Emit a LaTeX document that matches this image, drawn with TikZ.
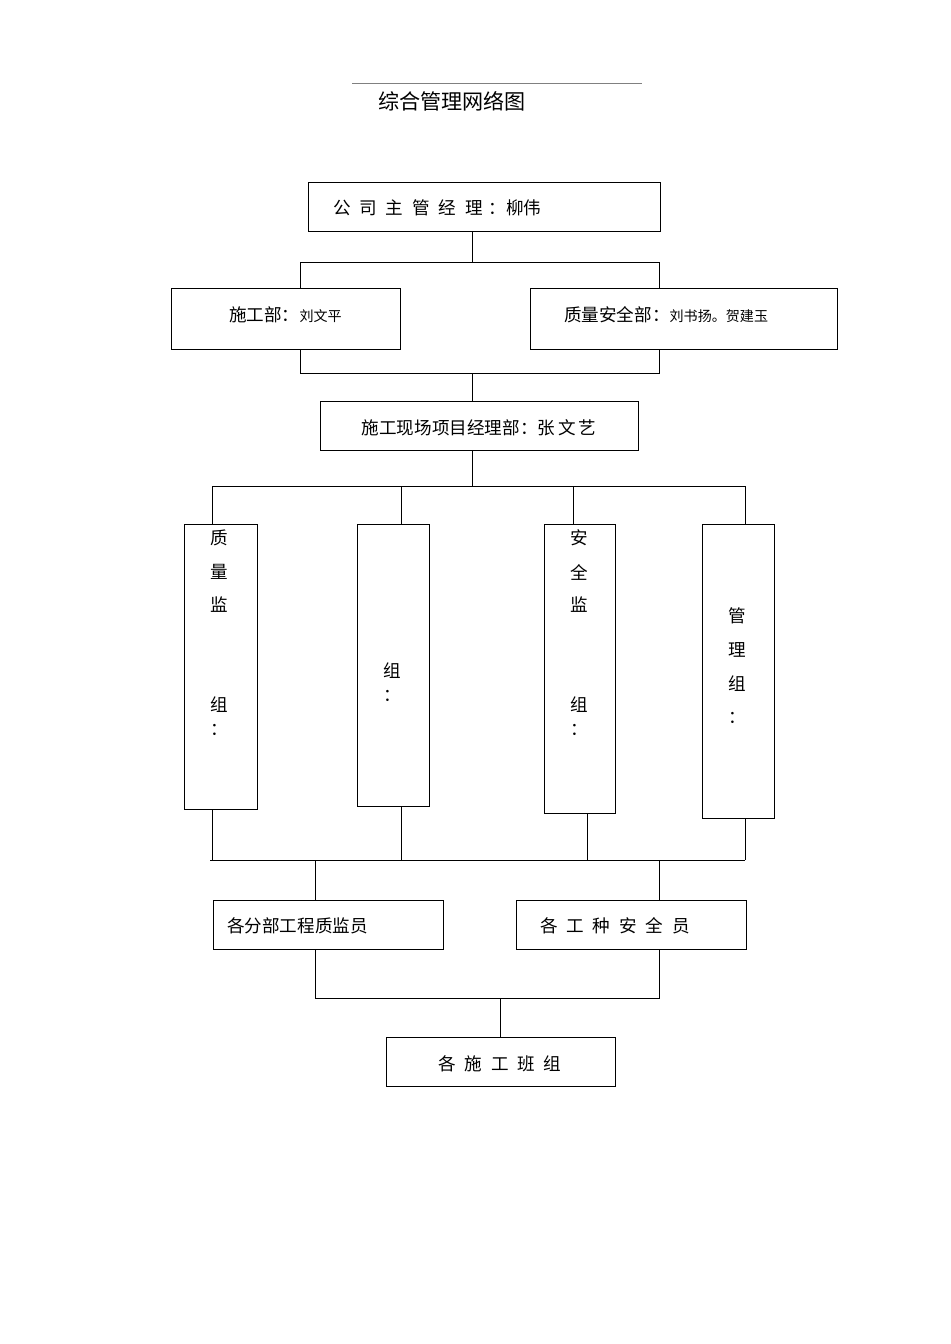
\documentclass[tikz,border=0pt]{standalone}
\usepackage{fontspec}
\newfontfamily\cjk{Noto Sans CJK SC}
\newcommand\smcjk{\fontsize{12}{12}\selectfont}
\begin{document}
\begin{tikzpicture}[x=0.03cm,y=-0.03cm,
  bx/.style={draw,line width=0.8pt,inner sep=0pt,anchor=north west},
  ln/.style={line width=0.6pt},
  t/.style={font=\cjk\fontsize{15}{15}\selectfont,inner sep=0pt}]
\useasboundingbox (0,0) rectangle (950,1344);
\draw[line width=0.3pt,gray] (352,83) -- (642,83);
\node[t,font=\cjk\fontsize{18}{18}\selectfont] (title) at (452,101) {综合管理网络图};
% boxes
\node[bx,minimum width=352*0.03cm,minimum height=49*0.03cm] (b1) at (308,182) {};
\node[t,anchor=west] at (333,208) {公\,\,\,司\,\,\,主\,\,\,管\,\,\,经\,\,\,理\,\,：柳伟};
\node[bx,minimum width=229*0.03cm,minimum height=61*0.03cm] (b2) at (171,288) {};
\node[t,anchor=west] at (229,315) {施工部：\smcjk 刘文平};
\node[bx,minimum width=307*0.03cm,minimum height=61*0.03cm] (b3) at (530,288) {};
\node[t,anchor=west] at (564,315) {质量安全部：\smcjk 刘书扬。贺建玉};
\node[bx,minimum width=318*0.03cm,minimum height=49*0.03cm] (b4) at (320,401) {};
\node[t] at (479,428) {施工现场项目经理部：张\,文\,艺};
\node[bx,minimum width=73*0.03cm,minimum height=285*0.03cm] (ga) at (184,524) {};
\node[bx,minimum width=72*0.03cm,minimum height=282*0.03cm] (gb) at (357,524) {};
\node[bx,minimum width=71*0.03cm,minimum height=289*0.03cm] (gc) at (544,524) {};
\node[bx,minimum width=72*0.03cm,minimum height=294*0.03cm] (gd) at (702,524) {};
\foreach \s/\y in {质/538,量/572,监/605,组/705,：/730} \node[t] at (219,\y) {\s};
\foreach \s/\y in {组/671,：/696} \node[t] at (392,\y) {\s};
\foreach \s/\y in {安/538,全/572,监/605,组/705,：/730} \node[t] at (579,\y) {\s};
\foreach \s/\y in {管/616,理/650,组/684,：/718} \node[t] at (737,\y) {\s};
\node[bx,minimum width=230*0.03cm,minimum height=49*0.03cm] (e) at (213,900) {};
\node[t,anchor=west] at (227,926) {各分部工程质监员};
\node[bx,minimum width=230*0.03cm,minimum height=49*0.03cm] (f) at (516,900) {};
\node[t,anchor=west] at (540,926) {各\,\,\,工\,\,\,种\,\,\,安\,\,\,全\,\,\,员};
\node[bx,minimum width=229*0.03cm,minimum height=49*0.03cm] (g) at (386,1037) {};
\node[t] at (500,1064) {各\,\,\,施\,\,\,工\,\,\,班\,\,\,组};
% connectors
\draw[ln] (472,0 |- b1.south) -- (472,262);
\draw[ln] (300,0 |- b2.north) -- (300,262) -- (659,262) -- (659,0 |- b3.north);
\draw[ln] (300,0 |- b2.south) -- (300,373) -- (659,373) -- (659,0 |- b3.south);
\draw[ln] (472,373) -- (472,0 |- b4.north);
\draw[ln] (472,0 |- b4.south) -- (472,486);
\draw[ln] (212,486) -- (745,486);
\draw[ln] (212,486) -- (212,0 |- ga.north);
\draw[ln] (401,486) -- (401,0 |- gb.north);
\draw[ln] (573,486) -- (573,0 |- gc.north);
\draw[ln] (745,486) -- (745,0 |- gd.north);
\draw[ln] (212,0 |- ga.south) -- (212,860);
\draw[ln] (401,0 |- gb.south) -- (401,860);
\draw[ln] (587,0 |- gc.south) -- (587,860);
\draw[ln] (745,0 |- gd.south) -- (745,860);
\draw[ln] (210,860) -- (745,860);
\draw[ln] (315,860) -- (315,0 |- e.north);
\draw[ln] (659,860) -- (659,0 |- f.north);
\draw[ln] (315,0 |- e.south) -- (315,998) -- (659,998) -- (659,0 |- f.south);
\draw[ln] (500,998) -- (500,0 |- g.north);
\end{tikzpicture}
\end{document}
